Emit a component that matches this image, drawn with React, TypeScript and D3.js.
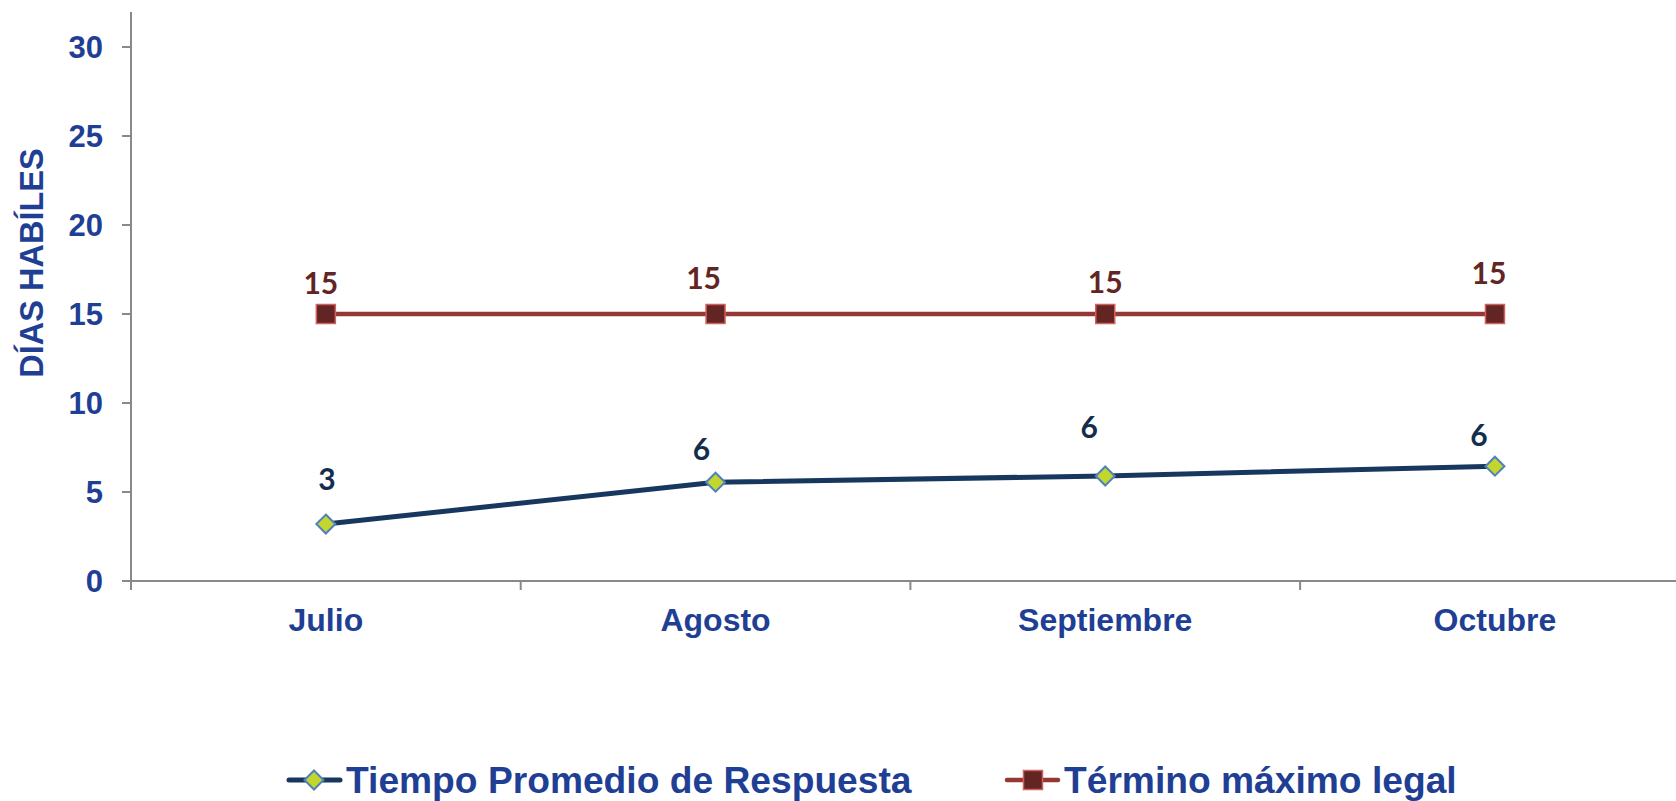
import React from "react";
import * as d3 from "d3";

const categories = ["Julio", "Agosto", "Septiembre", "Octubre"];
const tiempoPromedio = [3.2, 5.55, 5.9, 6.45];
const tiempoLabels = ["3", "6", "6", "6"];
const terminoLegal = [15, 15, 15, 15];
const terminoLabels = ["15", "15", "15", "15"];
const yTicks = [0, 5, 10, 15, 20, 25, 30];
const seriesNames = ["Tiempo Promedio de Respuesta", "Término máximo legal"];

// label placement nudges (layout, px)
const tiempoLabelDy = [-45, -33, -49, -31];
const tiempoLabelDx = [1, -14, -16, -16];
const terminoLabelDy = [-31, -36, -32, -41];
const terminoLabelDx = [-5, -12, 0, -6];

const W = 1676;
const H = 801;
const AXIS = "#898989";
const TEXT_BLUE = "#1f3f95";

export default function App() {
  const plotLeft = 131;
  const bandW = 389.7;
  const x = d3
    .scaleBand<string>()
    .domain(categories)
    .range([plotLeft, plotLeft + bandW * categories.length])
    .padding(0);
  const y = d3.scaleLinear().domain([0, 30]).range([581, 47]);
  const cx = (c: string) => (x(c) as number) + x.bandwidth() / 2;

  const line = d3
    .line<number>()
    .x((_, i) => cx(categories[i]))
    .y((d) => y(d));

  const diamond = (px: number, py: number, r: number) =>
    `M${px},${py - r}L${px + r},${py}L${px},${py + r}L${px - r},${py}Z`;

  return (
    <svg
      width={W}
      height={H}
      style={{ position: "absolute", left: 0, top: 0, background: "#fff" }}
      fontFamily="'Liberation Sans', Arial, sans-serif"
    >
      {/* Y axis */}
      <line x1={plotLeft} x2={plotLeft} y1={12} y2={590} stroke={AXIS} strokeWidth={2} />
      {yTicks.map((t) => (
        <g key={t}>
          <line x1={122} x2={plotLeft} y1={y(t)} y2={y(t)} stroke={AXIS} strokeWidth={2} />
          <text
            x={103}
            y={y(t)}
            dy="0.36em"
            textAnchor="end"
            fontSize={31}
            fontWeight="bold"
            fill={TEXT_BLUE}
          >
            {t}
          </text>
        </g>
      ))}
      <text
        transform={`translate(43,263) rotate(-90)`}
        textAnchor="middle"
        fontSize={32.5}
        fontWeight="bold"
        fill={TEXT_BLUE}
      >
        DÍAS HABÍLES
      </text>

      {/* X axis */}
      <line x1={122} x2={W} y1={y(0)} y2={y(0)} stroke={AXIS} strokeWidth={2} />
      {categories.map((c) => (
        <line
          key={c}
          x1={x(c) as number}
          x2={x(c) as number}
          y1={y(0)}
          y2={590}
          stroke={AXIS}
          strokeWidth={2}
        />
      ))}
      {categories.map((c) => (
        <text
          key={c}
          x={cx(c)}
          y={631}
          textAnchor="middle"
          fontSize={32}
          fontWeight="bold"
          fill={TEXT_BLUE}
        >
          {c}
        </text>
      ))}

      {/* Término máximo legal */}
      <path d={line(terminoLegal) || ""} fill="none" stroke="#953735" strokeWidth={4.5} />
      {terminoLegal.map((v, i) => (
        <rect
          key={i}
          x={cx(categories[i]) - 9.5}
          y={y(v) - 9.5}
          width={19}
          height={19}
          fill="#632523"
          stroke="#d0615e"
          strokeWidth={1.5}
        />
      ))}
      {terminoLegal.map((v, i) => (
        <text
          key={i}
          x={cx(categories[i]) + terminoLabelDx[i]}
          y={y(v) + terminoLabelDy[i]}
          dy="0.36em"
          textAnchor="middle"
          fontSize={30}
          fontWeight="bold"
          fontFamily="Lato, 'Open Sans', sans-serif"
          fill="#632523"
        >
          {terminoLabels[i]}
        </text>
      ))}

      {/* Tiempo Promedio de Respuesta */}
      <path d={line(tiempoPromedio) || ""} fill="none" stroke="#17375e" strokeWidth={5} />
      {tiempoPromedio.map((v, i) => (
        <path
          key={i}
          d={diamond(cx(categories[i]), y(v), 9.5)}
          fill="#c3d62e"
          stroke="#4f81bd"
          strokeWidth={2}
        />
      ))}
      {tiempoPromedio.map((v, i) => (
        <text
          key={i}
          x={cx(categories[i]) + tiempoLabelDx[i]}
          y={y(v) + tiempoLabelDy[i]}
          dy="0.36em"
          textAnchor="middle"
          fontSize={30}
          fontWeight="bold"
          fontFamily="Lato, 'Open Sans', sans-serif"
          fill="#142d4c"
        >
          {tiempoLabels[i]}
        </text>
      ))}

      {/* Legend */}
      <g>
        <line x1={289} x2={340} y1={780} y2={780} stroke="#17375e" strokeWidth={5} strokeLinecap="round" />
        <path d={diamond(314, 780, 9.5)} fill="#c3d62e" stroke="#4f81bd" strokeWidth={2} />
        <text x={346} y={793} fontSize={37.2} fontWeight="bold" fill={TEXT_BLUE}>
          {seriesNames[0]}
        </text>
        <line x1={1007} x2={1058} y1={780} y2={780} stroke="#953735" strokeWidth={4.5} strokeLinecap="round" />
        <rect x={1023.5} y={770.5} width={19} height={19} fill="#632523" stroke="#d0615e" strokeWidth={1.5} />
        <text x={1064} y={793} fontSize={37.2} fontWeight="bold" fill={TEXT_BLUE}>
          {seriesNames[1]}
        </text>
      </g>
    </svg>
  );
}
